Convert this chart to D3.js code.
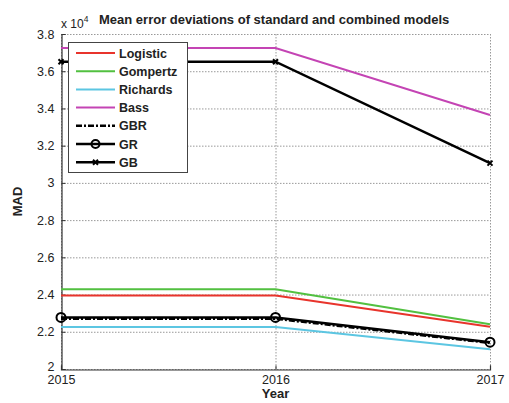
<!DOCTYPE html>
<html>
<head>
<meta charset="utf-8">
<script src="https://cdn.jsdelivr.net/npm/d3@7"></script>
<style>
body { margin: 0; background: #fff; }
svg text { font-family: Arial, "Liberation Sans", sans-serif; }
</style>
</head>
<body>
<div id="chart"></div>
<script>
const years = [2015, 2016, 2017];
const yTicks = [2, 2.2, 2.4, 2.6, 2.8, 3, 3.2, 3.4, 3.6, 3.8];

const logistic = [2.395, 2.395, 2.227];
const gompertz = [2.429, 2.429, 2.241];
const richards = [2.226, 2.226, 2.106];
const bass = [3.725, 3.725, 3.365];
const gbr = [2.270, 2.270, 2.140];
const gr = [2.277, 2.277, 2.144];
const gb = [3.651, 3.651, 3.106];

const series = [
  { name: "Logistic", values: logistic, color: "#e8342c", width: 2 },
  { name: "Gompertz", values: gompertz, color: "#52c040", width: 2 },
  { name: "Richards", values: richards, color: "#5cc6e2", width: 2 },
  { name: "Bass", values: bass, color: "#c444b4", width: 2 },
  { name: "GBR", values: gbr, color: "#000", width: 2.5, dash: "6,2,2,2" },
  { name: "GR", values: gr, color: "#000", width: 2.5, marker: "circle" },
  { name: "GB", values: gb, color: "#000", width: 2.5, marker: "x" }
];

const W = 509, H = 403;
const m = { l: 61, r: 19, t: 34, b: 34 };

const svg = d3.select("#chart").append("svg")
  .attr("width", W).attr("height", H);

const x = d3.scaleLinear().domain([2015, 2017]).range([m.l, W - m.r]);
const y = d3.scaleLinear().domain([2, 3.8]).range([H - m.b, m.t]);

// grid
const grid = svg.append("g").attr("stroke", "#999").attr("stroke-dasharray", "1.5,1.5").attr("stroke-width", 1);
grid.selectAll("line.h").data(yTicks).enter().append("line")
  .attr("x1", m.l).attr("x2", W - m.r)
  .attr("y1", d => y(d) + 0.5).attr("y2", d => y(d) + 0.5);
grid.selectAll("line.v").data(years).enter().append("line")
  .attr("y1", m.t).attr("y2", H - m.b)
  .attr("x1", d => x(d) + 0.5).attr("x2", d => x(d) + 0.5);

// axes
const yAxis = svg.append("g")
  .attr("transform", "translate(" + (m.l + 0.5) + ",0)")
  .call(d3.axisLeft(y).tickValues(yTicks).tickSize(-4).tickPadding(7).tickFormat(d3.format("~g")));
const xAxis = svg.append("g")
  .attr("transform", "translate(0," + (H - m.b + 0.5) + ")")
  .call(d3.axisBottom(x).tickValues(years).tickSize(-4).tickPadding(6).tickFormat(d3.format("d")));
[yAxis, xAxis].forEach(a => {
  a.select(".domain").attr("stroke", "#333").attr("stroke-width", 1.2);
  a.selectAll(".tick line").attr("stroke", "#333");
  a.selectAll("text").attr("font-size", 12.5).attr("fill", "#222");
});
yAxis.select(".tick:first-of-type text").attr("dy", "0.1em");

const line = d3.line().x((d, i) => x(years[i])).y(d => y(d));

const lines = svg.append("g");
series.forEach(s => {
  lines.append("path")
    .attr("d", line(s.values))
    .attr("fill", "none")
    .attr("stroke", s.color)
    .attr("stroke-width", s.width)
    .attr("stroke-dasharray", s.dash || null);
  if (s.marker === "circle") {
    lines.selectAll(null).data(s.values).enter().append("circle")
      .attr("cx", (d, i) => x(years[i])).attr("cy", d => y(d))
      .attr("r", 4.5).attr("fill", "none").attr("stroke", "#000").attr("stroke-width", 2);
  } else if (s.marker === "x") {
    lines.selectAll(null).data(s.values).enter().append("path")
      .attr("d", (d, i) => {
        const cx = x(years[i]), cy = y(d), r = 2.5;
        return `M${cx - r},${cy - r}L${cx + r},${cy + r}M${cx - r},${cy + r}L${cx + r},${cy - r}`;
      })
      .attr("stroke", "#000").attr("stroke-width", 2);
  }
});

// legend
const lg = svg.append("g").attr("transform", "translate(68,42)");
lg.append("rect").attr("x", 0.5).attr("y", 0.5).attr("width", 119).attr("height", 130)
  .attr("fill", "#fff").attr("stroke", "#444").attr("stroke-width", 1);
series.forEach((s, i) => {
  const yy = 11 + i * 18.2;
  lg.append("line").attr("x1", 8).attr("x2", 47).attr("y1", yy).attr("y2", yy)
    .attr("stroke", s.color).attr("stroke-width", s.width)
    .attr("stroke-dasharray", s.dash || null);
  if (s.marker === "circle") {
    lg.append("circle").attr("cx", 27.5).attr("cy", yy).attr("r", 4)
      .attr("fill", "none").attr("stroke", "#000").attr("stroke-width", 2);
  } else if (s.marker === "x") {
    lg.append("path").attr("d", `M25,${yy - 2.5}L30,${yy + 2.5}M25,${yy + 2.5}L30,${yy - 2.5}`)
      .attr("stroke", "#000").attr("stroke-width", 2);
  }
  lg.append("text").attr("x", 51).attr("y", yy).attr("dy", "0.36em")
    .attr("font-size", 12.5).attr("font-weight", "bold").attr("fill", "#222").text(s.name);
});

// titles
svg.append("text").attr("x", 99).attr("y", 24)
  .attr("font-size", 13).attr("font-weight", "bold").attr("fill", "#222")
  .text("Mean error deviations of standard and combined models");
const ex = svg.append("text").attr("x", 61).attr("y", 28).attr("font-size", 12).attr("fill", "#222");
ex.append("tspan").text("x 10");
ex.append("tspan").attr("dy", -6).attr("font-size", 8.5).text("4");
svg.append("text").attr("x", x(2016)).attr("y", 398).attr("text-anchor", "middle")
  .attr("font-size", 13).attr("font-weight", "bold").attr("fill", "#222").text("Year");
svg.append("text").attr("transform", "translate(22," + ((m.t + H - m.b) / 2) + ") rotate(-90)")
  .attr("text-anchor", "middle").attr("font-size", 13).attr("font-weight", "bold").attr("fill", "#222").text("MAD");
</script>
</body>
</html>
